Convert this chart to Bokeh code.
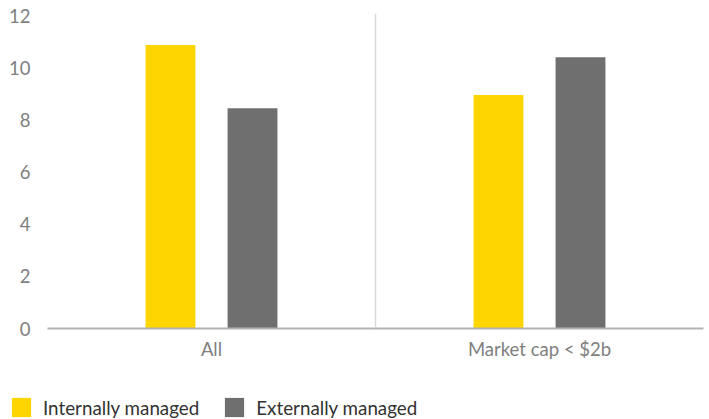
from bokeh.plotting import figure
from bokeh.models import ColumnDataSource, FactorRange, Range1d, Span, Legend, LegendItem, FixedTicker
from bokeh.layouts import column
from bokeh.transform import dodge
from bokeh.embed import file_html
from bokeh.resources import INLINE

categories = ["All", "Market cap < $2b"]
internally = [10.87, 8.95]
externally = [8.45, 10.4]
y_ticks = [0, 2, 4, 6, 8, 10, 12]
series_names = ["Internally managed", "Externally managed"]
series_colors = ["#FFD500", "#6F6F6F"]

FONT = "Lato"
source = ColumnDataSource(data=dict(cat=categories, internal=internally, external=externally))
xr = FactorRange(*categories, range_padding=0)

p = figure(width=709, height=380, x_range=xr,
           y_range=(0, 12.08), output_backend="svg", toolbar_location=None,
           min_border_left=47, min_border_right=6, min_border_top=13, min_border_bottom=52)
p.outline_line_color = None
p.xgrid.grid_line_color = None
p.ygrid.grid_line_color = None

p.vbar(x=dodge("cat", -0.125, range=xr), top="internal", width=0.152,
       source=source, color=series_colors[0], line_color=None)
p.vbar(x=dodge("cat", 0.125, range=xr), top="external", width=0.152,
       source=source, color=series_colors[1], line_color=None)

p.add_layout(Span(location=1, dimension="height", line_color="#d9d9d9", line_width=1.5))

p.yaxis.ticker = FixedTicker(ticks=y_ticks)
p.yaxis.axis_line_color = None
p.yaxis.major_tick_line_color = None
p.yaxis.minor_tick_line_color = None
p.yaxis.major_label_standoff = 11
p.yaxis.major_label_text_font = FONT
p.yaxis.major_label_text_font_size = "18.5px"
p.yaxis.major_label_text_color = "#808080"

p.xaxis.axis_line_color = "#b3b3b3"
p.xaxis.axis_line_width = 2
p.xaxis.major_tick_line_color = None
p.xaxis.major_tick_out = 0
p.xaxis.major_label_standoff = 9
p.xaxis.major_label_text_font = FONT
p.xaxis.major_label_text_font_size = "18.5px"
p.xaxis.major_label_text_color = "#808080"

# legend strip below the chart (its swatch renderers sit outside the visible y range)
p2 = figure(width=709, height=39, x_range=xr, y_range=Range1d(100, 101),
            x_axis_location=None, y_axis_location=None,
            output_backend="svg", toolbar_location=None,
            min_border_left=0, min_border_right=0, min_border_top=0, min_border_bottom=0,
            styles={"margin-left": "-38px"})
p2.grid.visible = False
p2.outline_line_color = None
l1 = p2.vbar(x=dodge("cat", -0.125, range=xr), top="internal", width=0.152,
             source=source, color=series_colors[0], line_color=None)
l2 = p2.vbar(x=dodge("cat", 0.125, range=xr), top="external", width=0.152,
             source=source, color=series_colors[1], line_color=None)

legend = Legend(items=[LegendItem(label=series_names[0], renderers=[l1]),
                       LegendItem(label=series_names[1], renderers=[l2])],
                orientation="horizontal", location=(0, 0),
                glyph_width=24, glyph_height=24, label_standoff=10, spacing=23,
                padding=0, margin=0, border_line_color=None, background_fill_alpha=0,
                label_text_font=FONT, label_text_font_size="18.8px", label_text_color="#333333",
                label_height=24)
p2.add_layout(legend, "center")

open("out.html", "w").write(file_html(column(p, p2, spacing=0), INLINE))
